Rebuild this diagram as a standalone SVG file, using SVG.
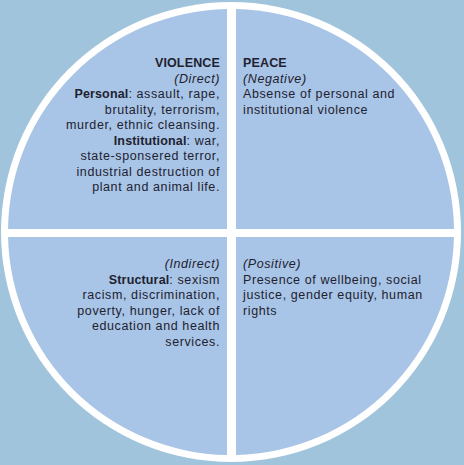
<svg xmlns="http://www.w3.org/2000/svg" width="464" height="465" viewBox="0 0 464 465">
<style>
.q{fill:#a8c4e6}
text{font-family:"Liberation Sans",Arial,sans-serif;font-size:12.5px;letter-spacing:0.6px;fill:#1e2230}
.b{font-weight:bold;letter-spacing:0.15px}
.i{font-style:italic}
.l{text-anchor:end}
</style>
<rect width="464" height="465" fill="#a0c4dc"/>
<circle cx="231" cy="232" r="230" fill="#ffffff"/>
<g id="violence-direct">
<path class="q" d="M227,229 L8.02,229 A223,223 0 0 1 227,9.04 Z"/>
<text class="l" x="220" y="67"><tspan class="b">VIOLENCE</tspan></text>
<text class="l i" x="220" y="82.5">(Direct)</text>
<text class="l" x="220" y="98"><tspan class="b">Personal</tspan>: assault, rape,</text>
<text class="l" x="220" y="113.5">brutality, terrorism,</text>
<text class="l" x="220" y="129">murder, ethnic cleansing.</text>
<text class="l" x="220" y="144.5"><tspan class="b">Institutional</tspan>: war,</text>
<text class="l" x="220" y="160">state-sponsered terror,</text>
<text class="l" x="220" y="175.5">industrial destruction of</text>
<text class="l" x="220" y="191">plant and animal life.</text>
</g>
<g id="peace-negative">
<path class="q" d="M236,229 L236,9.06 A223,223 0 0 1 453.98,229 Z"/>
<text class="b" x="243" y="67">PEACE</text>
<text class="i" x="243" y="82.5">(Negative)</text>
<text x="243" y="98">Absense of personal and</text>
<text x="243" y="113.5">institutional violence</text>
</g>
<g id="violence-indirect">
<path class="q" d="M227,237 L227,454.96 A223,223 0 0 1 8.06,237 Z"/>
<text class="l i" x="220" y="268">(Indirect)</text>
<text class="l" x="220" y="283.5"><tspan class="b">Structural</tspan>: sexism</text>
<text class="l" x="220" y="299">racism, discrimination,</text>
<text class="l" x="220" y="314.5">poverty, hunger, lack of</text>
<text class="l" x="220" y="330">education and health</text>
<text class="l" x="220" y="345.5">services.</text>
</g>
<g id="peace-positive">
<path class="q" d="M236,237 L453.94,237 A223,223 0 0 1 236,454.94 Z"/>
<text class="i" x="243" y="268">(Positive)</text>
<text x="243" y="283.5">Presence of wellbeing, social</text>
<text x="243" y="299">justice, gender equity, human</text>
<text x="243" y="314.5">rights</text>
</g>
<g id="connectors"/>
</svg>
